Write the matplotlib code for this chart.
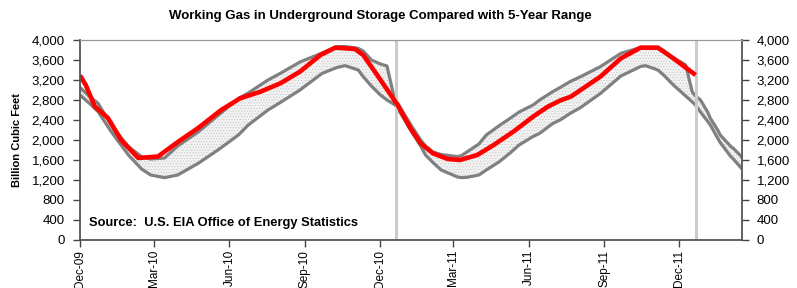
import matplotlib
matplotlib.use('Agg')
import matplotlib.pyplot as plt
import matplotlib.dates as mdates
import pandas as pd

plt.rcParams['font.family'] = ['Liberation Sans', 'DejaVu Sans']
plt.rcParams['hatch.linewidth'] = 0.4

# storage in current period (billion cubic feet)
red_dates = ['2009-12-01', '2009-12-08', '2009-12-19', '2010-01-04', '2010-01-20', '2010-02-10',
             '2010-03-06', '2010-03-31', '2010-04-24', '2010-05-22', '2010-06-14', '2010-07-09',
             '2010-08-02', '2010-08-26', '2010-09-20', '2010-10-08', '2010-11-01', '2010-11-11',
             '2010-11-28', '2010-12-23', '2011-01-07', '2011-01-20', '2011-02-04', '2011-02-22',
             '2011-03-09', '2011-03-30', '2011-04-19', '2011-05-13', '2011-06-06', '2011-06-24',
             '2011-07-09', '2011-07-22', '2011-08-03', '2011-08-27', '2011-09-21', '2011-10-15',
             '2011-11-05', '2011-11-24', '2011-12-21']
red_vals = [3290, 3100, 2670, 2440, 2000, 1640,
            1670, 1970, 2240, 2600, 2833, 2967,
            3133, 3367, 3700, 3847, 3820, 3700,
            3300, 2700, 2250, 1933, 1733, 1620,
            1600, 1700, 1900, 2167, 2467, 2667,
            2790, 2867, 3000, 3267, 3633, 3847,
            3847, 3633, 3300]

# 5-year range (max / min)
band_dates = ['2009-12-01', '2009-12-12', '2009-12-23', '2010-01-08', '2010-01-20', '2010-01-29',
              '2010-02-14', '2010-02-25', '2010-03-14', '2010-03-30', '2010-04-24', '2010-05-18',
              '2010-06-12', '2010-06-24', '2010-07-18', '2010-08-02', '2010-08-26', '2010-09-22',
              '2010-10-10', '2010-10-20', '2010-11-05', '2010-11-11', '2010-11-21', '2010-12-02',
              '2010-12-10', '2010-12-20', '2010-12-23', '2011-01-09', '2011-01-20', '2011-01-26',
              '2011-02-04', '2011-02-14', '2011-03-06', '2011-03-11', '2011-03-18', '2011-04-01',
              '2011-04-10', '2011-04-26', '2011-05-09', '2011-05-20', '2011-06-06', '2011-06-14',
              '2011-06-30', '2011-07-09', '2011-07-21', '2011-08-03', '2011-08-27', '2011-09-21',
              '2011-10-15', '2011-10-21', '2011-11-05', '2011-11-12', '2011-11-24', '2011-12-03',
              '2011-12-09', '2011-12-17', '2011-12-21', '2011-12-27', '2012-01-05', '2012-01-08',
              '2012-01-17', '2012-01-20', '2012-02-02', '2012-02-05', '2012-02-15']
max_vals = [3050, 2880, 2733, 2300, 2050, 1867,
            1667, 1620, 1640, 1880, 2160, 2490,
            2830, 2940, 3200, 3333, 3560, 3740,
            3867, 3870, 3833, 3780, 3600, 3520,
            3480, 2760, 2733, 2280, 2000, 1880,
            1760, 1710, 1667, 1690, 1767, 1920,
            2100, 2290, 2433, 2560, 2700, 2800,
            2967, 3050, 3167, 3267, 3467, 3733,
            3850, 3855, 3850, 3790, 3633, 3560,
            3500, 2960, 2880, 2800, 2550, 2433,
            2200, 2100, 1870, 1833, 1667]
min_vals = [2900, 2740, 2567, 2167, 1900, 1700,
            1420, 1300, 1247, 1300, 1533, 1800,
            2100, 2300, 2600, 2750, 3000, 3333,
            3450, 3487, 3400, 3267, 3080, 2900,
            2800, 2700, 2633, 2167, 1880, 1700,
            1550, 1400, 1260, 1247, 1255, 1300,
            1400, 1567, 1740, 1900, 2070, 2133,
            2330, 2400, 2530, 2650, 2930, 3280,
            3470, 3487, 3400, 3300, 3100, 2967,
            2880, 2760, 2700, 2560, 2367, 2300,
            2033, 1950, 1667, 1620, 1433]

marker_dates = ['2010-12-21', '2011-12-21']
y_ticks = [0, 400, 800, 1200, 1600, 2000, 2400, 2800, 3200, 3600, 4000]

rd = pd.to_datetime(red_dates)
bd = pd.to_datetime(band_dates)

fig = plt.figure(figsize=(7.97, 2.88), dpi=100)
ax = fig.add_axes([0.1004, 0.1667, 0.8300, 0.6944])

ax.fill_between(bd, min_vals, max_vals, facecolor='#f2f2f2', hatch='......',
                edgecolor='#c4c4c4', linewidth=0)
ax.plot(bd, max_vals, color='#808080', lw=2.3)
ax.plot(bd, min_vals, color='#808080', lw=2.3)
for d in marker_dates:
    ax.axvline(pd.Timestamp(d), color='#cccccc', lw=2.2)
ax.plot(rd, red_vals, color='#ff0000', lw=3.3, solid_capstyle='butt')

ax.set_ylim(0, 4000)
ax.set_xlim(pd.Timestamp('2009-12-01'), pd.Timestamp('2012-02-15'))
ax.set_yticks(y_ticks)
ax.yaxis.set_major_formatter(matplotlib.ticker.FuncFormatter(lambda v, p: f'{int(v):,}'))
ax.xaxis.set_major_locator(mdates.MonthLocator(bymonth=[3, 6, 9, 12]))
ax.xaxis.set_major_formatter(mdates.DateFormatter('%b-%y'))
ax.tick_params(axis='y', direction='out', length=5, width=1, pad=6, labelsize=9.5,
               right=True, labelright=True, color='#444444')
ax.tick_params(axis='x', direction='out', length=5, width=1, pad=2, labelsize=8.5,
               labelrotation=90, color='#444444')

for s in ['left', 'right', 'bottom']:
    ax.spines[s].set_color('#555555')
    ax.spines[s].set_linewidth(1.3)
ax.spines['top'].set_color('#999999')
ax.spines['top'].set_linewidth(0.9)

ax.set_ylabel('Billion Cubic Feet', fontsize=8, fontweight='bold')
ax.yaxis.set_label_coords(-0.087, 0.5)
fig.text(0.477, 0.945, 'Working Gas in Underground Storage Compared with 5-Year Range',
         ha='center', va='center', fontsize=9.5, fontweight='bold')
ax.text(0.013, 0.085, 'Source:  U.S. EIA Office of Energy Statistics', transform=ax.transAxes,
        fontsize=9.3, fontweight='bold', ha='left', va='center')

fig.savefig('out.png', dpi=100)
plt.close(fig)
